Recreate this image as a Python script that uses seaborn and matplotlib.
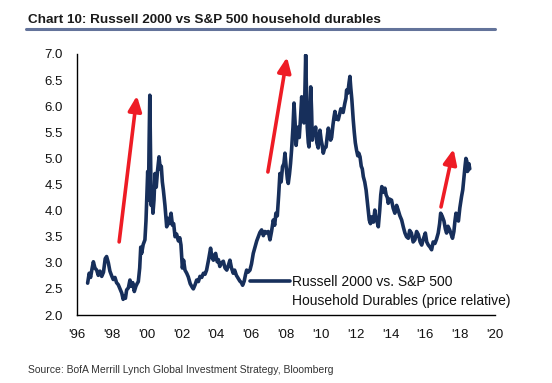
import numpy as np
import pandas as pd
import seaborn as sns
import matplotlib
matplotlib.use("Agg")
import matplotlib.pyplot as plt
from matplotlib import font_manager

# Russell 2000 vs S&P 500 household durables, price relative
years = [
    1996.61, 1996.70, 1996.78, 1996.86, 1996.94, 1997.03, 1997.13, 1997.22, 1997.32, 1997.42,
    1997.52, 1997.62, 1997.70, 1997.80, 1997.89, 1997.98, 1998.08, 1998.18, 1998.27, 1998.37,
    1998.47, 1998.57, 1998.65, 1998.72, 1998.78, 1998.85, 1998.95, 1999.04, 1999.12, 1999.20,
    1999.29, 1999.38, 1999.45, 1999.52, 1999.60, 1999.66, 1999.71, 1999.80, 1999.90, 1999.96,
    2000.02, 2000.06, 2000.10, 2000.14, 2000.18, 2000.22, 2000.26, 2000.30, 2000.36, 2000.42,
    2000.48, 2000.55, 2000.62, 2000.71, 2000.78, 2000.84, 2000.90, 2000.96, 2001.05, 2001.15,
    2001.22, 2001.30, 2001.40, 2001.48, 2001.55, 2001.63, 2001.72, 2001.82, 2001.90, 2001.97,
    2002.05, 2002.12, 2002.20, 2002.30, 2002.39, 2002.50, 2002.60, 2002.68, 2002.78, 2002.87,
    2002.97, 2003.06, 2003.16, 2003.26, 2003.35, 2003.44, 2003.55, 2003.67, 2003.75, 2003.83,
    2003.90, 2003.96, 2004.05, 2004.12, 2004.20, 2004.30, 2004.40, 2004.50, 2004.60, 2004.70,
    2004.78, 2004.87, 2004.97, 2005.05, 2005.15, 2005.26, 2005.35, 2005.44, 2005.51, 2005.60,
    2005.68, 2005.74, 2005.82, 2005.93, 2006.02, 2006.12, 2006.22, 2006.32, 2006.41, 2006.50,
    2006.60, 2006.70, 2006.79, 2006.89, 2006.98, 2007.08, 2007.17, 2007.27, 2007.35, 2007.42,
    2007.50, 2007.58, 2007.65, 2007.72, 2007.80, 2007.88, 2007.94, 2008.02, 2008.08, 2008.13,
    2008.20, 2008.26, 2008.32, 2008.40, 2008.46, 2008.52, 2008.58, 2008.64, 2008.70, 2008.76,
    2008.83, 2008.90, 2008.97, 2009.03, 2009.08, 2009.13, 2009.17, 2009.22, 2009.28, 2009.32,
    2009.37, 2009.42, 2009.47, 2009.51, 2009.57, 2009.63, 2009.70, 2009.77, 2009.85, 2009.90,
    2009.95, 2010.02, 2010.08, 2010.14, 2010.22, 2010.30, 2010.36, 2010.43, 2010.50, 2010.56,
    2010.62, 2010.70, 2010.76, 2010.81, 2010.88, 2010.95, 2011.00, 2011.08, 2011.15, 2011.20,
    2011.28, 2011.38, 2011.44, 2011.48, 2011.55, 2011.62, 2011.67, 2011.72, 2011.78, 2011.86,
    2011.92, 2011.98, 2012.05, 2012.12, 2012.18, 2012.25, 2012.32, 2012.38, 2012.44, 2012.52,
    2012.60, 2012.66, 2012.72, 2012.78, 2012.85, 2012.90, 2012.96, 2013.02, 2013.10, 2013.16,
    2013.22, 2013.30, 2013.38, 2013.44, 2013.50, 2013.57, 2013.62, 2013.68, 2013.75, 2013.82,
    2013.87, 2013.95, 2014.06, 2014.15, 2014.25, 2014.35, 2014.44, 2014.54, 2014.64, 2014.74,
    2014.83, 2014.92, 2015.02, 2015.10, 2015.20, 2015.30, 2015.40, 2015.50, 2015.60, 2015.70,
    2015.79, 2015.88, 2016.00, 2016.08, 2016.17, 2016.27, 2016.36, 2016.45, 2016.55, 2016.64,
    2016.74, 2016.82, 2016.88, 2016.96, 2017.07, 2017.15, 2017.22, 2017.30, 2017.40, 2017.48,
    2017.56, 2017.64, 2017.70, 2017.76, 2017.84, 2017.90, 2017.98, 2018.08, 2018.15, 2018.22,
    2018.28, 2018.33, 2018.38, 2018.42, 2018.46, 2018.50, 2018.55,
]
ratio = [
    2.61, 2.80, 2.72, 2.88, 3.02, 2.90, 2.86, 2.76, 2.84, 2.74,
    2.82, 3.08, 3.12, 3.00, 2.84, 2.76, 2.68, 2.72, 2.62, 2.58,
    2.50, 2.42, 2.30, 2.36, 2.32, 2.48, 2.52, 2.67, 2.55, 2.62,
    2.45, 2.55, 2.60, 2.64, 2.90, 3.30, 3.18, 3.35, 3.44, 3.80,
    4.40, 4.75, 4.20, 5.30, 6.21, 5.20, 4.10, 4.40, 3.95, 4.20,
    4.71, 4.45, 4.75, 5.03, 4.80, 4.85, 4.55, 4.39, 4.10, 3.69,
    3.85, 3.75, 3.95, 3.72, 3.75, 3.50, 3.55, 3.42, 3.48, 3.34,
    2.90, 3.05, 2.86, 2.80, 2.73, 2.60, 2.54, 2.50, 2.58, 2.67,
    2.64, 2.74, 2.72, 2.80, 2.78, 2.86, 3.05, 3.28, 3.10, 3.05,
    3.15, 3.18, 3.02, 3.06, 2.93, 3.00, 3.03, 2.90, 2.86, 2.96,
    3.05, 2.90, 2.80, 2.86, 2.76, 2.70, 2.65, 2.62, 2.57, 2.65,
    2.78, 2.86, 2.82, 2.86, 2.98, 3.18, 3.30, 3.42, 3.50, 3.58,
    3.63, 3.52, 3.60, 3.57, 3.60, 3.44, 3.60, 3.82, 3.72, 3.95,
    3.90, 4.30, 4.71, 4.55, 4.84, 4.90, 5.10, 4.80, 4.60, 4.52,
    4.70, 4.90, 5.16, 5.60, 6.06, 5.70, 5.25, 5.45, 5.60, 5.40,
    5.75, 6.18, 5.90, 5.68, 6.20, 6.98, 6.40, 5.60, 5.30, 5.22,
    5.80, 6.37, 5.90, 5.35, 5.55, 5.45, 5.60, 5.30, 5.20, 5.40,
    5.54, 5.35, 5.25, 5.10, 5.20, 5.22, 5.40, 5.58, 5.45, 5.35,
    5.40, 5.65, 5.80, 5.90, 5.75, 5.78, 5.74, 5.85, 5.95, 5.93,
    5.88, 6.06, 6.15, 6.31, 6.25, 6.45, 6.57, 6.35, 6.13, 5.74,
    5.50, 5.30, 5.16, 5.05, 5.10, 5.03, 4.85, 4.80, 4.65, 4.55,
    4.39, 4.20, 4.00, 3.82, 3.75, 3.88, 3.80, 3.78, 4.01, 3.85,
    3.80, 3.69, 4.00, 4.30, 4.46, 4.40, 4.35, 4.43, 4.30, 4.25,
    4.14, 4.22, 4.20, 4.05, 3.95, 4.10, 4.01, 3.90, 3.82, 3.68,
    3.57, 3.50, 3.47, 3.62, 3.57, 3.40, 3.44, 3.60, 3.54, 3.40,
    3.34, 3.45, 3.57, 3.40, 3.34, 3.30, 3.25, 3.40, 3.37, 3.45,
    3.57, 3.75, 3.95, 3.90, 3.80, 3.65, 3.57, 3.70, 3.63, 3.55,
    3.47, 3.60, 3.80, 3.95, 3.85, 3.80, 4.05, 4.27, 4.40, 4.65,
    4.85, 5.00, 4.95, 4.75, 4.78, 4.90, 4.80,
]

# red arrows: (start year, start value, end year, end value)
arrow_start_x = [1998.42, 2006.96, 2016.90]
arrow_start_y = [3.40, 4.74, 4.07]
arrow_end_x = [1999.44, 2008.06, 2017.62]
arrow_end_y = [6.20, 6.94, 5.18]

x_ticks = list(range(1996, 2021, 2))
x_labels = ["'" + str(y)[2:] for y in x_ticks]
y_ticks = [2.0, 2.5, 3.0, 3.5, 4.0, 4.5, 5.0, 5.5, 6.0, 6.5, 7.0]

title = "Chart 10: Russell 2000 vs S&P 500 household durables"
source = "Source: BofA Merrill Lynch Global Investment Strategy, Bloomberg"
series_label = "Russell 2000 vs. S&P 500"
series_label2 = "Household Durables (price relative)"

df = pd.DataFrame({"year": years, "ratio": ratio})

sns.set_style("white")
installed = {f.name for f in font_manager.fontManager.ttflist}
narrow = "Liberation Sans Narrow" if "Liberation Sans Narrow" in installed else "Liberation Sans"
plt.rcParams["font.family"] = ["Liberation Sans", "DejaVu Sans"]

navy = "#172f5b"
red = "#ee1c25"

fig = plt.figure(figsize=(5.52, 3.83), dpi=100)
ax = fig.add_axes([77 / 552, 1 - 315 / 383, (495 - 77) / 552, (315 - 54) / 383])

sns.lineplot(data=df, x="year", y="ratio", ax=ax, color=navy, linewidth=2.6,
             label=series_label)

for x0, y0, x1, y1 in zip(arrow_start_x, arrow_start_y, arrow_end_x, arrow_end_y):
    ax.annotate("", xy=(x1, y1), xytext=(x0, y0),
                arrowprops=dict(arrowstyle="-|>,head_width=0.4,head_length=0.9",
                                color=red, lw=2.6, shrinkA=0, shrinkB=0))

ax.set_xlim(1996, 2020)
ax.set_ylim(2.0, 7.0)
ax.set_xticks(x_ticks)
ax.set_xticklabels(x_labels)
ax.set_yticks(y_ticks)
ax.set_yticklabels([f"{v:.1f}" for v in y_ticks])
ax.set_xlabel("")
ax.set_ylabel("")
ax.tick_params(axis="both", direction="out", length=4, width=1, color="black",
               labelsize=9.5, labelcolor="#111111")
ax.tick_params(axis="x", pad=6)
ax.tick_params(axis="y", pad=6)
for side in ["top", "right"]:
    ax.spines[side].set_visible(False)
for side in ["left", "bottom"]:
    ax.spines[side].set_color("black")
    ax.spines[side].set_linewidth(1)

leg = ax.legend(loc="center left", bbox_to_anchor=((250 - 77) / 418, (315 - 282) / 261),
                frameon=False, handlelength=2.85, handletextpad=0.15, borderpad=0,
                borderaxespad=0, fontsize=10)
for t in leg.get_texts():
    t.set_color("#111111")
ax.text((292 - 77) / 418, (315 - 301) / 261, series_label2, transform=ax.transAxes,
        fontsize=10, color="#111111", va="center", ha="left")

fig.text(28 / 552, 1 - 20 / 383, title, fontsize=9.7, fontweight="bold",
         family=[narrow, "DejaVu Sans"], color="#1a1a1a", va="center", ha="left")
fig.add_artist(plt.Line2D([26 / 552, 495 / 552], [1 - 29 / 383, 1 - 29 / 383],
                          color="#63739a", linewidth=2.2))
fig.text(28 / 552, 1 - 370 / 383, source, fontsize=7.5,
         family=[narrow, "DejaVu Sans"], color="#333333", va="center", ha="left")

fig.savefig("out.png", dpi=100)
plt.close(fig)
